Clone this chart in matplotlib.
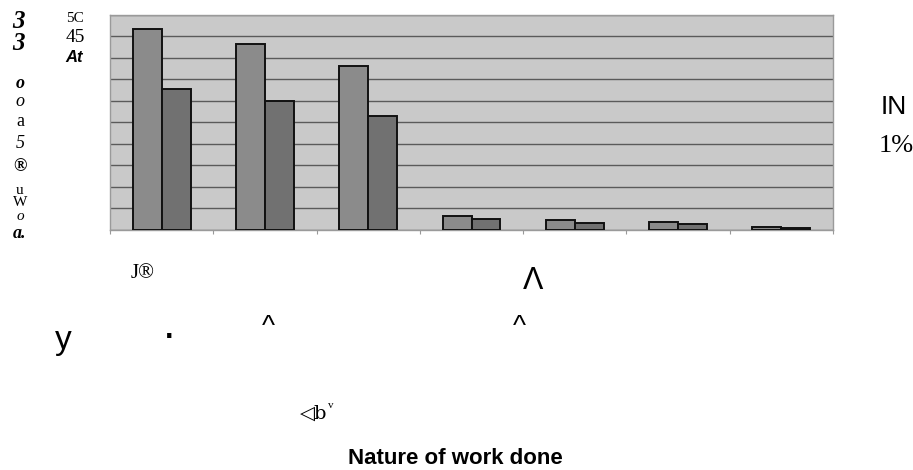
import numpy as np
import matplotlib
matplotlib.use("Agg")
import matplotlib.pyplot as plt

# values (0-50 scale, 7 work types, 2 series)
categories = ["1", "2", "3", "4", "5", "6", "7"]
series_a = [46.7, 43.2, 38.2, 3.3, 2.3, 1.9, 0.8]
series_b = [32.7, 30.1, 26.5, 2.5, 1.7, 1.3, 0.4]
yticks = np.arange(0, 55, 5)

W, H = 913, 470
fig = plt.figure(figsize=(W / 100, H / 100), dpi=100)

# plot box in pixels: x 110..833, y 15..230
ax = fig.add_axes([110 / W, 1 - 230 / H, 723 / W, 215 / H])
ax.set_facecolor("#c9c9c9")

x = np.arange(len(categories))
bw = 0.28
ax.bar(x - bw / 2, series_a, bw, color="#8b8b8b", edgecolor="#111111", linewidth=1.4, zorder=3)
ax.bar(x + bw / 2, series_b, bw, color="#717171", edgecolor="#111111", linewidth=1.4, zorder=3)

ax.set_xlim(-0.5, len(categories) - 0.5)
ax.set_ylim(0, 50)
ax.set_yticks(yticks)
ax.yaxis.grid(True, color="#5a5a5a", linewidth=1.0, zorder=1)
ax.tick_params(axis="y", length=0, labelleft=False)
ax.set_xticks(np.arange(len(categories) + 1) - 0.5)
ax.tick_params(axis="x", length=3, color="#999999", labelbottom=False)
for s in ax.spines.values():
    s.set_color("#9a9a9a")
    s.set_linewidth(1.0)


def px(xp, yp, s, **kw):
    fig.text(xp / W, 1 - yp / H, s, ha="center", va="center", **kw)


serif = ["Liberation Serif", "DejaVu Serif"]
sans = ["Liberation Sans", "DejaVu Sans"]

# garbled y-axis labels from the scan
px(18, 21, "3", family=serif, fontsize=18, fontweight="bold", style="italic")
px(18, 44, "3", family=serif, fontsize=18, fontweight="bold", style="italic")
px(75, 18, "5C", family=serif, fontsize=11)
px(75, 37, "45", family=serif, fontsize=14)
px(74, 57, "At", family=sans, fontsize=12, fontweight="bold", style="italic")

col = [(84, "o", "bold", "italic", 13), (101, "o", "normal", "italic", 13),
       (121, "a", "normal", "normal", 13), (144, "5", "normal", "italic", 13),
       (167, "®", "bold", "normal", 13), (190, "u", "normal", "normal", 11),
       (203, "W", "normal", "normal", 11), (216, "o", "normal", "italic", 11),
       (233, "a.", "bold", "italic", 13)]
for yy, s, fw, st, fs in col:
    px(20, yy, s, family=serif, fontsize=fs, fontweight=fw, style=st)

# right side
px(894, 107, "IN", family=sans, fontsize=19)
px(896, 146, "1%", family=serif, fontsize=19)

# scattered marks below the plot
px(143, 273, "J®", family=serif, fontsize=15)
px(533, 281, "Λ", family=sans, fontsize=22)
px(63, 340, "y", family=sans, fontsize=24)
px(170, 338, "·", family=sans, fontsize=22, fontweight="bold")
px(268, 327, "^", family=sans, fontsize=20)
px(519, 327, "^", family=sans, fontsize=20)
px(314, 414, "◁b", family=["DejaVu Serif"], fontsize=14)
px(331, 405, "v", family=serif, fontsize=8)

px(455, 458, "Nature of work done", family=sans, fontsize=16, fontweight="bold")

fig.savefig("out.png", dpi=100)
